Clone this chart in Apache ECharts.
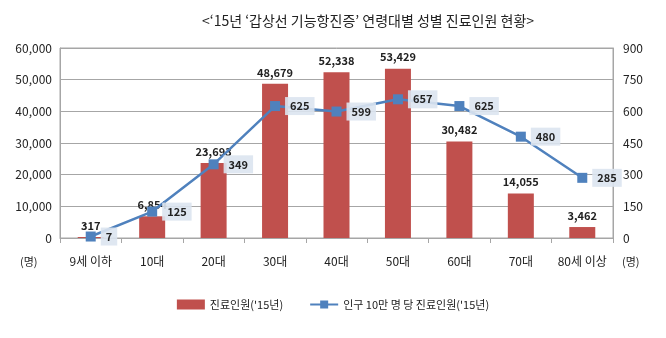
<!DOCTYPE html>
<html>
<head>
<meta charset="utf-8">
<script src="https://cdn.jsdelivr.net/npm/echarts@6/dist/echarts.min.js"></script>
<style>
  html, body { margin: 0; padding: 0; background: #fff; }
  #chart { width: 666px; height: 338px; }
</style>
</head>
<body>
<div id="chart"></div>
<script>
// Age groups
const categories = ['9세 이하', '10대', '20대', '30대', '40대', '50대', '60대', '70대', '80세 이상'];
// Patients treated in 2015 (persons)
const patients = [317, 6854, 23693, 48679, 52338, 53429, 30482, 14055, 3462];
// Patients per 100,000 population
const per100k = [7, 125, 349, 625, 599, 657, 625, 480, 285];

const leftTicks = { min: 0, max: 60000, interval: 10000 };
const rightTicks = { min: 0, max: 900, interval: 150 };

const FONT = "'Noto Sans CJK KR', 'Noto Sans', sans-serif";

const chart = echarts.init(document.getElementById('chart'), null, { renderer: 'canvas' });

chart.setOption({
  animation: false,
  backgroundColor: '#ffffff',
  textStyle: { fontFamily: FONT },
  title: {
    text: "<‘15년 ‘갑상선 기능항진증’ 연령대별 성별 진료인원 현황>",
    left: 363,
    textAlign: 'center',
    top: 9,
    textStyle: { fontSize: 14, fontWeight: 'normal', color: '#222', fontFamily: FONT }
  },
  grid: { left: 60, right: 53, top: 48, bottom: 100, show: true, borderColor: '#a6a6a6', borderWidth: 1 },
  legend: {
    bottom: 23,
    left: 'center',
    itemGap: 26,
    textStyle: { fontSize: 11, color: '#222', fontFamily: FONT },
    data: [
      { name: "진료인원('15년)", icon: 'rect' },
      { name: "인구 10만 명 당 진료인원('15년)" }
    ],
    itemWidth: 28,
    itemHeight: 10
  },
  xAxis: {
    type: 'category',
    data: categories,
    axisLine: { lineStyle: { color: '#a6a6a6' } },
    axisTick: { show: true, length: 5, lineStyle: { color: '#a6a6a6' } },
    axisLabel: { interval: 0, color: '#222', fontSize: 12, margin: 17, fontFamily: FONT }
  },
  yAxis: [
    {
      type: 'value',
      min: leftTicks.min, max: leftTicks.max, interval: leftTicks.interval,
      axisLine: { show: true, lineStyle: { color: '#a6a6a6' } },
      axisTick: { show: false },
      splitLine: { lineStyle: { color: '#a6a6a6' } },
      axisLabel: {
        color: '#222', fontSize: 12, margin: 8, fontFamily: FONT,
        formatter: v => v.toLocaleString('en-US')
      }
    },
    {
      type: 'value',
      min: rightTicks.min, max: rightTicks.max, interval: rightTicks.interval,
      axisLine: { show: true, lineStyle: { color: '#a6a6a6' } },
      axisTick: { show: false },
      splitLine: { show: false },
      axisLabel: { color: '#222', fontSize: 12, margin: 10, fontFamily: FONT }
    }
  ],
  graphic: [
    { type: 'text', left: 20, top: 256, style: { text: '(명)', fontSize: 11, fill: '#222', fontFamily: FONT } },
    { type: 'text', left: 622, top: 256, style: { text: '(명)', fontSize: 11, fill: '#222', fontFamily: FONT } }
  ],
  series: [
    {
      name: "진료인원('15년)",
      type: 'bar',
      yAxisIndex: 0,
      data: patients,
      barWidth: 26,
      itemStyle: { color: '#c0504d' },
      label: {
        show: true, position: 'top', distance: 6,
        fontSize: 11, fontWeight: 'bold', color: '#222', fontFamily: FONT,
        formatter: p => p.value.toLocaleString('en-US')
      }
    },
    {
      name: "인구 10만 명 당 진료인원('15년)",
      type: 'line',
      yAxisIndex: 1,
      data: per100k,
      symbol: 'rect',
      symbolSize: 10,
      lineStyle: { color: '#4f81bd', width: 2.5 },
      itemStyle: { color: '#4f81bd' },
      label: {
        show: true, position: 'right', distance: 5,
        fontSize: 11, fontWeight: 'bold', color: '#222', fontFamily: FONT,
        backgroundColor: 'rgba(220,228,240,0.9)',
        padding: [4, 5, 3, 5]
      },
      z: 5
    }
  ]
});
</script>
</body>
</html>
